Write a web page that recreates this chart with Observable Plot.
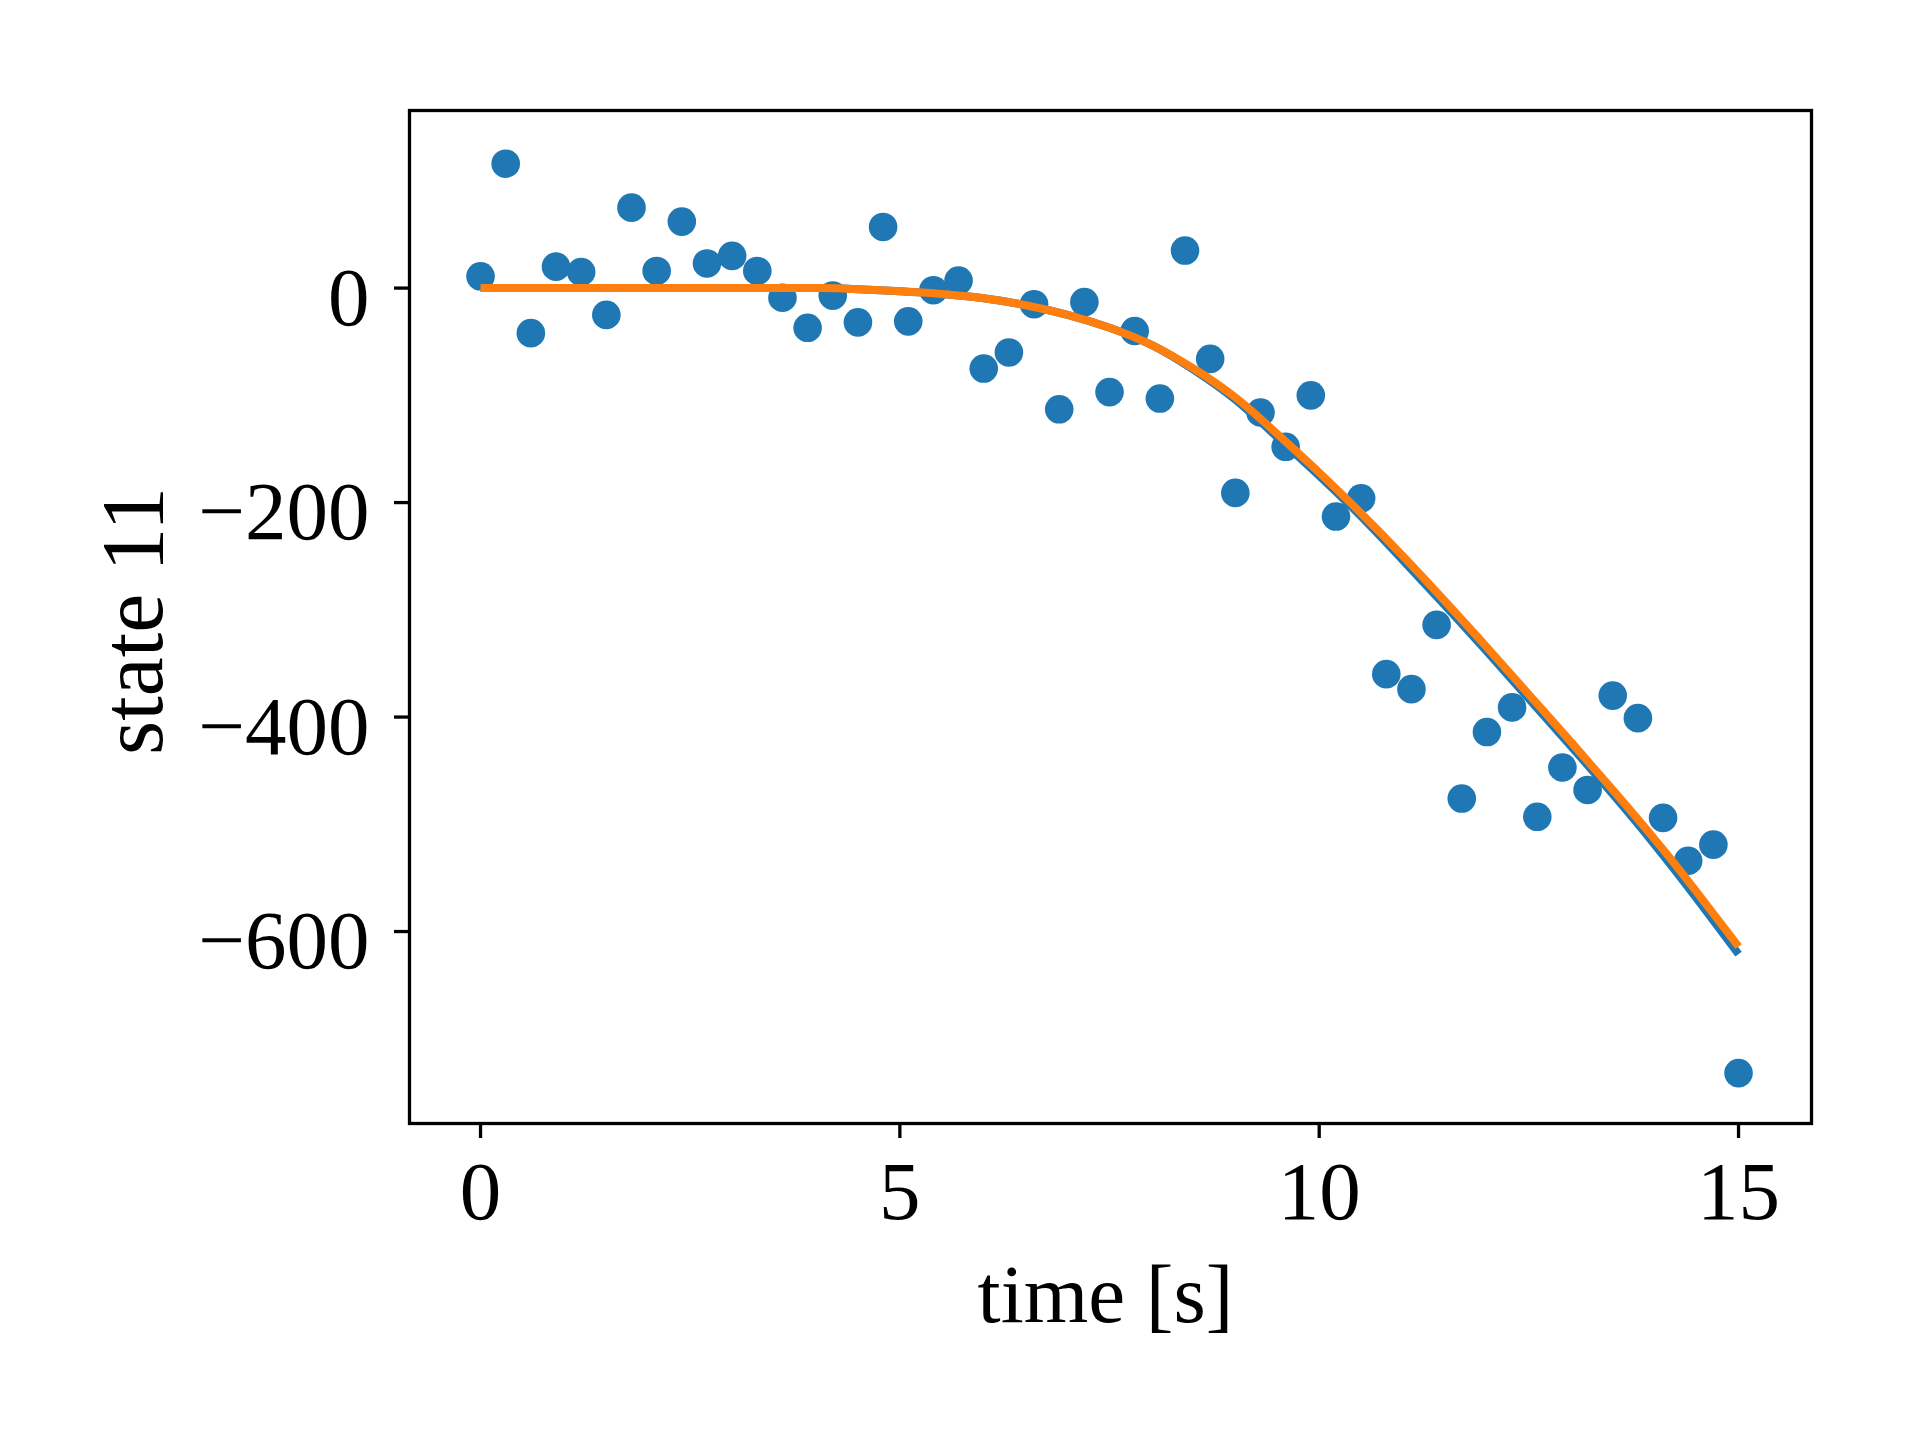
<!DOCTYPE html>
<html>
<head>
<meta charset="utf-8">
<script src="https://cdn.jsdelivr.net/npm/d3@7"></script>
<script src="https://cdn.jsdelivr.net/npm/@observablehq/plot@0.6"></script>
<style>
  html, body { margin: 0; padding: 0; background: #fff; overflow: hidden; }
  #chart svg { display: block; }
</style>
</head>
<body>
<div id="chart"></div>
<script>
// measured samples (time in s, state 11)
const time = [0, 0.3, 0.6, 0.9, 1.2, 1.5, 1.8, 2.1, 2.4, 2.7, 3.0, 3.3, 3.6, 3.9, 4.2, 4.5, 4.8, 5.1, 5.4, 5.7,
  6.0, 6.3, 6.6, 6.9, 7.2, 7.5, 7.8, 8.1, 8.4, 8.7, 9.0, 9.3, 9.6, 9.9, 10.2, 10.5, 10.8, 11.1, 11.4, 11.7,
  12.0, 12.3, 12.6, 12.9, 13.2, 13.5, 13.8, 14.1, 14.4, 14.7, 15.0];
const measurement = [11, 116, -42, 20, 15, -25, 75, 16, 62, 23, 30, 16, -9, -37, -7, -32, 57, -31, -2, 7,
  -75, -60, -15, -113, -13, -97, -40, -103, 35, -66, -191, -116, -148, -100, -213, -196, -360, -374, -314, -476,
  -414, -391, -493, -447, -468, -380, -401, -494, -534, -519, -732];

// smooth model curves
const curveTime = [0, 1, 2, 3, 4, 4.5, 5, 5.5, 6, 6.5, 7, 7.5, 8, 8.5, 9, 9.5, 10, 10.5, 11, 11.5, 12, 12.5, 13, 13.5, 14, 14.5, 15];
const blueCurve = [0, 0, 0, 0, 0, -1, -3, -5.5, -9.5, -16, -25, -37, -53, -76, -104, -139, -175, -213, -254, -296, -339, -383, -427, -472, -519, -569, -621];
const orangeCurve = [0, 0, 0, 0, 0, -1, -3, -5.5, -9.5, -16, -25, -37, -53, -75, -102, -136, -172, -210, -250, -292, -335, -379, -423, -468, -514, -563, -614];

const xTicks = [0, 5, 10, 15];
const yTicks = [-600, -400, -200, 0];
const xLabel = "time [s]";
const yLabel = "state 11";

const points = time.map((t, i) => ({t, v: measurement[i]}));
const blue = curveTime.map((t, i) => ({t, v: blueCurve[i]}));
const orange = curveTime.map((t, i) => ({t, v: orangeCurve[i]}));

const font = "'Liberation Serif', 'DejaVu Serif', serif";
const fs = 83;

const chart = Plot.plot({
  width: 1920,
  height: 1440,
  marginLeft: 409,
  marginRight: 109,
  marginTop: 110,
  marginBottom: 317,
  style: {fontFamily: font, color: "#000", background: "#fff"},
  x: {domain: [-0.847, 15.87]},
  y: {domain: [-779, 165.6]},
  marks: [
    Plot.dot(points, {x: "t", y: "v", r: 14.3, fill: "#1f77b4", stroke: "none"}),
    Plot.line(blue, {x: "t", y: "v", stroke: "#1f77b4", strokeWidth: 8, curve: "natural", strokeLinecap: "butt"}),
    Plot.line(orange, {x: "t", y: "v", stroke: "#ff7f0e", strokeWidth: 8, curve: "natural", strokeLinecap: "butt"}),
    Plot.frame({stroke: "#000", strokeWidth: 3.3}),
    Plot.axisX({ticks: xTicks, tickSize: 15, tickPadding: 22, fontSize: fs, strokeWidth: 3.3, label: null, tickFormat: d => String(d)}),
    Plot.axisY({ticks: yTicks, tickSize: 15, tickFormat: () => "", strokeWidth: 3.3, label: null}),
    Plot.axisY({ticks: yTicks, tickSize: 0, tickPadding: 40, fontSize: fs, label: null, dy: 10}),
    Plot.text([xLabel], {text: d => d, frameAnchor: "bottom", textAnchor: "middle", lineAnchor: "middle", dy: 172, dx: -5, fontSize: fs, fill: "#000"}),
    Plot.text([yLabel], {text: d => d, frameAnchor: "left", textAnchor: "middle", lineAnchor: "middle", rotate: -90, dx: -276, dy: 4, fontSize: 88, fill: "#000"})
  ]
});
document.getElementById("chart").appendChild(chart);
</script>
</body>
</html>
